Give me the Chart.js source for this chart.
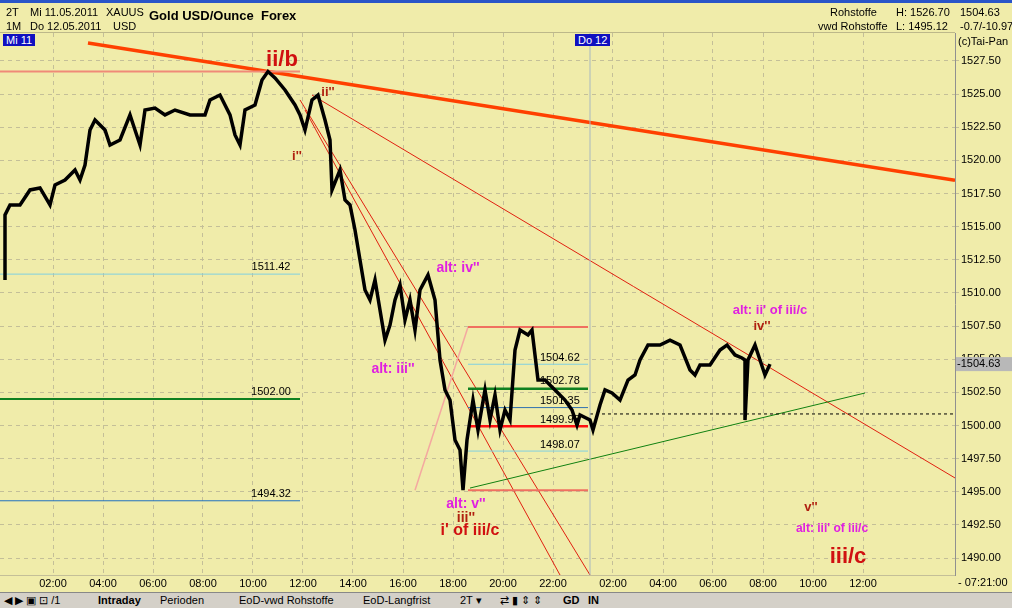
<!DOCTYPE html>
<html>
<head>
<meta charset="utf-8">
<script src="https://cdn.jsdelivr.net/npm/chart.js@4/dist/chart.umd.min.js"></script>
<style>
body { margin:0; width:1012px; height:608px; overflow:hidden; background:#f0ecaa; font-family:"Liberation Sans", Arial, sans-serif; position:relative; }
#wrap { position:absolute; left:0; top:0; width:1012px; height:592px; }
.hd { position:absolute; font-size:11px; color:#000; white-space:nowrap; }
.bar { position:absolute; left:0; top:592px; width:1012px; height:16px; background:#d4d0c8; border-top:1px solid #888; font-size:11px; }
.bar span { position:absolute; top:1px; }
</style>
</head>
<body>
<div id="wrap"><canvas id="chart" width="1012" height="592"></canvas></div>
<div style="position:absolute;left:0;top:0;width:1012px;height:3px;background:#2a55c8"></div>
<div style="position:absolute;left:0;top:32px;width:955px;height:1px;background:#bdb88a"></div>
<div class="hd" style="left:6px;top:6px">2T</div>
<div class="hd" style="left:6px;top:20px">1M</div>
<div class="hd" style="left:30px;top:6px">Mi 11.05.2011</div>
<div class="hd" style="left:30px;top:20px">Do 12.05.2011</div>
<div class="hd" style="left:106px;top:6px">XAUUS</div>
<div class="hd" style="left:113px;top:20px">USD</div>
<div class="hd" style="left:149px;top:8px;font-size:13px;font-weight:bold">Gold USD/Ounce&nbsp; Forex</div>
<div class="hd" style="left:830px;top:6px">Rohstoffe</div>
<div class="hd" style="left:818px;top:20px">vwd Rohstoffe</div>
<div class="hd" style="left:896px;top:6px">H: 1526.70</div>
<div class="hd" style="left:896px;top:20px">L: 1495.12</div>
<div class="hd" style="left:960px;top:6px">1504.63</div>
<div class="hd" style="left:960px;top:20px">-0.7/-10.97</div>
<div class="hd" style="left:958px;top:35px">(c)Tai-Pan</div>
<div class="hd" style="left:3px;top:34px;background:#1010c0;color:#fff;padding:0 3px">Mi 11</div>
<div class="hd" style="left:575px;top:34px;background:#1010c0;color:#fff;padding:0 3px">Do 12</div>
<div class="hd" style="left:958px;top:576px">- 07:21:00</div>
<div class="bar">
<span style="left:4px">◀ ▶ ▣ ⊡ /1</span>
<span style="left:98px;font-weight:bold">Intraday</span>
<span style="left:160px">Perioden</span>
<span style="left:239px">EoD-vwd Rohstoffe</span>
<span style="left:363px">EoD-Langfrist</span>
<span style="left:460px">2T ▾</span>
<span style="left:500px">⇄ ▮ ⇕ ⇕</span>
<span style="left:563px;font-weight:bold">GD</span>
<span style="left:588px;font-weight:bold">IN</span>
</div>
<script>
// x = chart position in hours (night break squeezed)
var priceX = [0.2,0.2,0.4,0.8,1.2,1.6,2.0,2.2,2.6,3.0,3.2,3.4,3.6,3.8,4.2,4.4,4.8,5.2,5.4,5.6,5.8,6.2,6.6,7.0,7.6,8.2,8.4,8.8,9.0,9.2,9.4,9.6,9.8,10.2,10.48,10.72,11.0,11.4,11.8,12.0,12.2,12.48,12.72,13.0,13.2,13.28,13.6,13.8,14.0,14.2,14.4,14.6,14.8,15.0,15.2,15.4,15.6,15.8,16.0,16.2,16.4,16.6,16.8,17.12,17.4,17.6,17.8,18.0,18.2,18.4,18.52,18.68,18.8,18.92,19.12,19.4,19.6,19.8,20.0,20.2,20.4,20.6,20.8,21.12,21.28,21.52,21.8,22.2,22.6,22.88,23.08,23.2,23.6,23.72,24.0,24.2,24.48,24.8,25.12,25.4,25.6,25.92,26.4,26.8,27.2,27.6,27.8,28.0,28.4,28.8,29.08,29.4,29.68,29.8,29.8,29.92,30.2,30.4,30.6,30.8];
var priceY = [1510.98,1515.88,1516.64,1516.64,1517.77,1517.92,1516.64,1518.14,1518.52,1519.28,1518.52,1519.65,1522.29,1523.05,1522.29,1521.16,1521.54,1523.43,1522.29,1521.16,1523.80,1523.95,1523.43,1523.80,1523.43,1523.43,1524.56,1524.93,1524.18,1523.43,1521.92,1521.16,1523.80,1524.18,1526.07,1526.70,1526.22,1525.31,1524.18,1523.43,1522.29,1524.56,1524.93,1523.05,1521.54,1517.77,1519.28,1517.01,1516.64,1514.75,1512.49,1510.22,1509.47,1510.98,1508.71,1506.44,1507.58,1509.47,1510.60,1507.96,1509.47,1507.20,1510.22,1511.35,1509.47,1504.94,1502.68,1501.92,1498.90,1498.15,1495.12,1498.90,1500.41,1501.92,1499.66,1502.68,1500.41,1502.30,1499.66,1501.17,1500.41,1505.69,1507.20,1506.83,1507.20,1503.43,1503.43,1502.68,1501.92,1501.17,1500.03,1500.79,1500.41,1499.66,1501.55,1502.68,1502.45,1501.92,1503.43,1503.81,1504.94,1506.07,1506.07,1506.44,1506.07,1504.19,1503.81,1504.56,1504.56,1505.69,1506.07,1505.32,1505.09,1504.94,1500.41,1504.94,1506.07,1504.94,1503.81,1504.63];
var lastPrice = 1504.63;

var tickPos = [2.12,4.12,6.12,8.12,10.12,12.12,14.12,16.12,18.12,20.12,22.12,24.52,26.52,28.52,30.52,32.52,34.52];
var tickLabels = ['02:00','04:00','06:00','08:00','10:00','12:00','14:00','16:00','18:00','20:00','22:00','02:00','04:00','06:00','08:00','10:00','12:00'];
var yTicks = [1490,1492.5,1495,1497.5,1500,1502.5,1505,1507.5,1510,1512.5,1515,1517.5,1520,1522.5,1525,1527.5];

// drawn lines: x1, y1, x2, y2, colour, width, dashed
var lines = [
	[3.52,1528.86,38.2,1518.5,'#ff4000',3.5,false],
	[0,1526.70,12.0,1526.70,'#f08a78',2,false],
	[12.48,1524.93,38.2,1496.04,'#e02010',1,false],
	[12.0,1524.56,23.6,1488.72,'#e02010',1,false],
	[12.2,1523.8,22.4,1488.72,'#e02010',1,false],
	[18.8,1495.28,34.6,1502.45,'#108010',1,false],
	[16.6,1495.12,18.72,1507.43,'#f4a8a0',1.5,false],
	[18.72,1507.43,23.52,1507.43,'#f07060',2,false],
	[18.72,1504.62,23.52,1504.62,'#80d0e0',1,false],
	[18.72,1502.78,23.52,1502.78,'#108020',2.5,false],
	[18.72,1501.35,23.52,1501.35,'#3070b0',1,false],
	[18.72,1499.95,23.52,1499.95,'#ff1010',2.5,false],
	[18.72,1498.07,23.52,1498.07,'#80d0e0',1,false],
	[18.72,1495.12,23.52,1495.12,'#f07060',2,false],
	[0,1511.42,12.0,1511.42,'#80d0e0',1,false],
	[0,1502.00,12.0,1502.00,'#108020',2,false],
	[0,1494.32,12.0,1494.32,'#2070c0',1,false],
	[23.6,1500.87,38.2,1500.87,'#000',1,true],
	[23.6,1488.7,23.6,1529.6,'#a8b8c0',1,false]
];
// labels: text, x, y, colour, size, align
var labels = [
	['ii/b',11.28,1527.57,'#d01010',22,'center'],
	["ii''",13.12,1525.16,'#b02010',13,'center'],
	["i''",11.88,1520.33,'#b02010',13,'center'],
	["alt: iv''",18.32,1511.88,'#e020e0',14,'center'],
	["alt: iii''",15.72,1504.26,'#e020e0',14,'center'],
	["alt: v''",18.64,1494.08,'#e020e0',14,'center'],
	["iii''",18.64,1493.02,'#b02010',14,'center'],
	["i' of iii/c",18.8,1492.04,'#d01010',16,'center'],
	["alt: ii' of iii/c",30.8,1508.71,'#e020e0',13,'center'],
	["iv''",30.48,1507.5,'#b02010',13,'center'],
	["v''",32.44,1493.85,'#b02010',13,'center'],
	["alt: iii' of iii/c",33.28,1492.2,'#e020e0',12,'center'],
	['iii/c',33.92,1490.08,'#d01010',22,'center'],
	['1504.62',21.6,1505.09,'#000',11,'left'],
	['1502.78',21.6,1503.35,'#000',11,'left'],
	['1501.35',21.6,1501.85,'#000',11,'left'],
	['1499.95',21.6,1500.41,'#000',11,'left'],
	['1498.07',21.6,1498.53,'#000',11,'left'],
	['1511.42',10.84,1511.96,'#000',11,'center'],
	['1502.00',10.84,1502.53,'#000',11,'center'],
	['1494.32',10.84,1494.83,'#000',11,'center']
];

var overlay = {
	id: 'overlay',
	beforeDatasetsDraw: function(chart) {
		var ctx = chart.ctx, xs = chart.scales.x, ys = chart.scales.y, a = chart.chartArea;
		ctx.save();
		ctx.beginPath();
		ctx.rect(a.left, a.top, a.right - a.left, a.bottom - a.top);
		ctx.clip();
		for (var i in lines) {
			var l = lines[i];
			ctx.strokeStyle = l[4];
			ctx.lineWidth = l[5];
			ctx.setLineDash(l[6] ? [3, 3] : []);
			ctx.beginPath();
			ctx.moveTo(xs.getPixelForValue(l[0]), ys.getPixelForValue(l[1]));
			ctx.lineTo(xs.getPixelForValue(l[2]), ys.getPixelForValue(l[3]));
			ctx.stroke();
		}
		ctx.restore();
	},
	afterDraw: function(chart) {
		var ctx = chart.ctx, xs = chart.scales.x, ys = chart.scales.y;
		ctx.save();
		ctx.textBaseline = 'middle';
		for (var i in labels) {
			var t = labels[i];
			var bold = t[3] != '#000';
			ctx.font = (bold ? 'bold ' : '') + t[4] + 'px "Liberation Sans", Arial';
			ctx.fillStyle = t[3];
			ctx.textAlign = t[5];
			ctx.fillText(t[0], xs.getPixelForValue(t[1]), ys.getPixelForValue(t[2]));
		}
		var py = ys.getPixelForValue(lastPrice);
		ctx.fillStyle = '#b8b8b8';
		ctx.fillRect(956, py - 7, 56, 14);
		ctx.fillStyle = '#000';
		ctx.textAlign = 'left';
		ctx.font = '11px "Liberation Sans", Arial';
		ctx.fillText('-' + lastPrice.toFixed(2), 957, py);
		ctx.restore();
	}
};

new Chart(document.getElementById('chart'), {
	type: 'line',
	data: {
		datasets: [{
			data: priceX.map(function(x, i) { return {x: x, y: priceY[i]}; }),
			borderColor: '#000',
			borderWidth: 3.5,
			pointRadius: 0,
			tension: 0
		}]
	},
	options: {
		responsive: false,
		animation: false,
		layout: { padding: { top: 33, left: 0, right: 0, bottom: 0 } },
		plugins: { legend: { display: false }, tooltip: { enabled: false } },
		scales: {
			x: {
				type: 'linear', min: 0, max: 38.2,
				afterBuildTicks: function(s) { s.ticks = tickPos.map(function(v) { return {value: v}; }); },
				afterFit: function(s) { s.height = 17; },
				ticks: {
					autoSkip: false, maxRotation: 0, color: '#000', font: { size: 11, family: 'Liberation Sans' }, padding: 2,
					callback: function(v, i) { return tickLabels[i]; }
				},
				grid: { color: '#c4bf98', tickLength: 0, drawTicks: false },
				border: { dash: [4, 4], color: '#c4bf98' }
			},
			y: {
				position: 'right', min: 1488.72, max: 1529.61,
				afterBuildTicks: function(s) { s.ticks = yTicks.map(function(v) { return {value: v}; }); },
				afterFit: function(s) { s.width = 57; },
				ticks: {
					color: '#000', font: { size: 11, family: 'Liberation Sans' }, padding: 2,
					callback: function(v) { return v.toFixed(2); }
				},
				grid: { color: '#c4bf98', tickLength: 4 },
				border: { dash: [4, 4], color: '#909090' }
			}
		}
	},
	plugins: [overlay]
});
</script>
</body>
</html>
